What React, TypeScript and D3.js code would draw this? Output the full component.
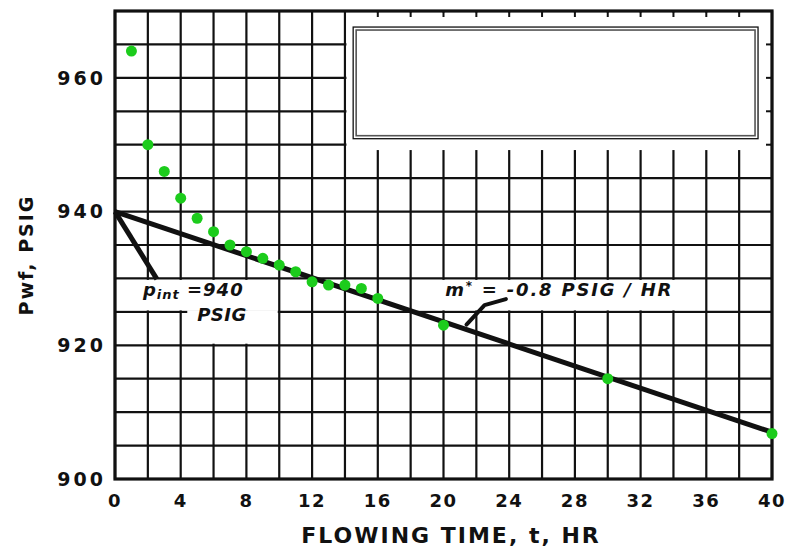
import React from "react"
import * as d3 from "d3"

const flowTimes = [1, 2, 3, 4, 5, 6, 7, 8, 9, 10, 11, 12, 13, 14, 15, 16, 20, 30, 40]
const pressures = [964, 950, 946, 942, 939, 937, 935, 934, 933, 932, 931, 929.5, 929, 929, 928.5, 927, 923, 915, 906.8]

const xTickLabels = [0, 4, 8, 12, 16, 20, 24, 28, 32, 36, 40]
const yTickLabels = [900, 920, 940, 960]

// straight line fit: p_int = 940, m* = -0.8
const fitTimes = [0, 40]
const fitPressures = [940, 907]

const width = 788
const height = 549
const ink = "#111"
const green = "#1ccc1c"
const font = "'DejaVu Sans', Verdana, sans-serif"

const App = () => {
  const x = d3.scaleLinear().domain([0, 40]).range([115, 772])
  const y = d3.scaleLinear().domain([900, 970]).range([479, 11])

  const xGrid = d3.range(0, 41, 2)
  const yGrid = d3.range(900, 971, 5)

  const line = d3.line<[number, number]>()
    .x(d => x(d[0]))
    .y(d => y(d[1]))

  const fitPts = fitTimes.map((t, i) => [t, fitPressures[i]] as [number, number])
  const pintPointer: [number, number][] = [[0, 940], [2.55, 929.9]]
  const mPointer: [number, number][] = [[21.4, 923.1], [22.5, 926.0], [23.8, 926.9]]

  // blank box in the upper right
  const boxX0 = x(14.5), boxX1 = x(39.15)
  const boxY0 = y(967.6), boxY1 = y(950.9)

  return (
    <svg width={width} height={height} style={{ position: "absolute", left: 0, top: 0, background: "white" }}>
      <rect x={0} y={0} width={width} height={height} fill="white" />

      {/* grid */}
      <g stroke={ink} strokeWidth={2.2}>
        {xGrid.map(t => (
          <line key={"vx" + t} x1={x(t)} x2={x(t)} y1={y(970)} y2={y(900)} />
        ))}
        {yGrid.map(p => (
          <line key={"hy" + p} x1={x(0)} x2={x(40)} y1={y(p)} y2={y(p)} />
        ))}
      </g>

      {/* white patches behind the labels */}
      <g fill="white">
        <rect x={x(14) + 1.5} y={y(970) + 1.5} width={x(40) - x(14) - 3} height={y(949.2) - y(970) - 1.5} />
        <rect x={x(0) + 1.5} y={y(930) + 1.5} width={x(10) - x(0) - 3} height={y(925) - y(930) - 3} />
        <rect x={x(4.4)} y={y(925) - 1.6} width={x(10) - x(4.4) - 1.5} height={y(920) - y(925)} />
        <rect x={x(18) + 1.5} y={y(930) + 1.5} width={x(36) - x(18) - 3} height={y(925) - y(930) - 3} />
      </g>

      {/* the empty box */}
      <rect x={boxX0} y={boxY0} width={boxX1 - boxX0} height={boxY1 - boxY0} fill="white" stroke={ink} strokeWidth={1.3} />
      <rect x={boxX0 + 3} y={boxY0 + 3} width={boxX1 - boxX0 - 6} height={boxY1 - boxY0 - 6} fill="none" stroke="#555" strokeWidth={1.6} />

      {/* ticks where the grid is hidden */}
      <g stroke={ink} strokeWidth={2}>
        {xGrid.filter(t => t > 14 && t < 40).map(t => (
          <line key={"tt" + t} x1={x(t)} x2={x(t)} y1={y(970)} y2={y(970) + 6} />
        ))}
        {yGrid.filter(p => p >= 950 && p < 970).map(p => (
          <line key={"rt" + p} x1={x(40)} x2={x(40) - 6} y1={y(p)} y2={y(p)} />
        ))}
      </g>

      {/* frame */}
      <rect x={x(0)} y={y(970)} width={x(40) - x(0)} height={y(900) - y(970)} fill="none" stroke={ink} strokeWidth={3.2} />

      {/* straight line and pointers */}
      <path d={line(fitPts) ?? ""} fill="none" stroke={ink} strokeWidth={5} />
      <path d={line(pintPointer) ?? ""} fill="none" stroke={ink} strokeWidth={5} />
      <path d={line(mPointer) ?? ""} fill="none" stroke={ink} strokeWidth={4} strokeLinecap="round" strokeLinejoin="round" />

      {/* data points */}
      <g fill={green}>
        {flowTimes.map((t, i) => (
          <circle key={"pt" + t} cx={x(t)} cy={y(pressures[i])} r={5.5} />
        ))}
      </g>

      {/* annotations */}
      <g fontFamily={font} fontStyle="italic" fontWeight="bold" fill={ink}>
        <text x={x(1.7)} y={y(927.4)} fontSize={18} letterSpacing={1}>
          p<tspan fontSize={13} dy={3}>int</tspan>
          <tspan dy={-3}> =940</tspan>
        </text>
        <text x={x(5)} y={y(923.6)} fontSize={18} letterSpacing={0.5}>PSIG</text>
        <text x={x(20.1)} y={y(927.4)} fontSize={18} letterSpacing={1.8}>
          m<tspan fontSize={12} dy={-6}>*</tspan>
          <tspan dy={6}> = -0.8 PSIG / HR</tspan>
        </text>
      </g>

      {/* tick labels */}
      <g fontFamily={font} fontWeight="bold" fill={ink}>
        {yTickLabels.map(p => (
          <text key={"yl" + p} x={106} y={y(p)} dy="0.36em" textAnchor="end" fontSize={19} letterSpacing={3}>{p}</text>
        ))}
        {xTickLabels.map(t => (
          <text key={"xl" + t} x={x(t)} y={507} textAnchor="middle" fontSize={18} letterSpacing={1.5}>{t}</text>
        ))}
      </g>

      {/* axis titles */}
      <text x={451} y={543} textAnchor="middle" fontFamily={font} fontWeight="bold" fontSize={22} letterSpacing={2} fill={ink}>
        FLOWING TIME, t, HR
      </text>
      <text transform="translate(33,255) rotate(-90)" textAnchor="middle" fontFamily={font} fontWeight="bold" fontSize={19} letterSpacing={2} fill={ink}>
        Pwf, PSIG
      </text>
    </svg>
  )
}

export default App
